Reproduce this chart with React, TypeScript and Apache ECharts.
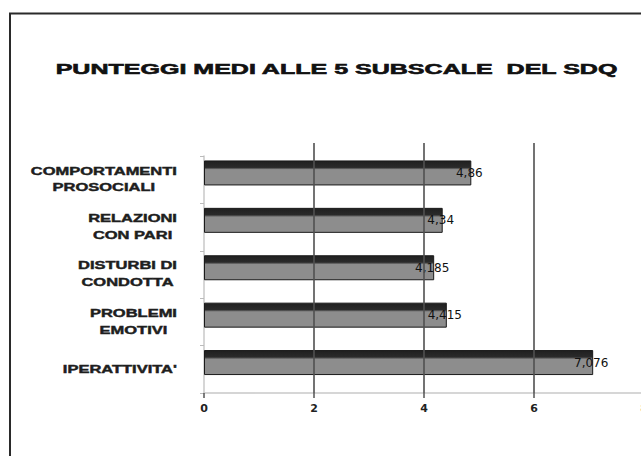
import React, { useEffect, useRef } from "react";
import * as echarts from "echarts";

const titleText = "PUNTEGGI MEDI ALLE 5 SUBSCALE  DEL SDQ";
const categories = [
  "COMPORTAMENTI\nPROSOCIALI",
  "RELAZIONI\nCON PARI",
  "DISTURBI DI\nCONDOTTA",
  "PROBLEMI\nEMOTIVI",
  "IPERATTIVITA'",
];
const values = [4.86, 4.34, 4.185, 4.415, 7.076];
const xMin = 0;
const xMax = 8;
const xInterval = 2;

const LABEL_FONT_SIZE = 10;
const LABEL_SCALE = 1.65;
const LABEL_RIGHT = 177;

export default function App() {
  const ref = useRef<HTMLDivElement>(null);
  useEffect(() => {
    if (!ref.current) return;
    const chart = echarts.init(ref.current, null, { renderer: "svg" });
    const barGradient = new echarts.graphic.LinearGradient(0, 0, 0, 1, [
      { offset: 0, color: "#202020" },
      { offset: 0.27, color: "#2a2a2a" },
      { offset: 0.32, color: "#5e5e5e" },
      { offset: 0.36, color: "#8d8d8d" },
      { offset: 1, color: "#8d8d8d" },
    ]);
    const option: any = {
      animation: false,
      backgroundColor: "#ffffff",
      grid: [
        { left: 204, top: 156, width: 440, height: 237, outerBoundsMode: "none", containLabel: false },
        { left: 204, top: 143, width: 440, height: 250, outerBoundsMode: "none", containLabel: false },
      ],
      xAxis: [
        {
          gridIndex: 0,
          type: "value",
          min: xMin,
          max: xMax,
          interval: xInterval,
          axisLine: { show: true, lineStyle: { color: "#c8c8c8", width: 1.5 } },
          axisTick: { show: true, length: 5, lineStyle: { color: "#555", width: 1.5 } },
          axisLabel: {
            margin: 10,
            color: "#222",
            fontFamily: "DejaVu Sans",
            fontWeight: "bold",
            fontSize: 11,
          },
          splitLine: { show: false },
        },
        {
          gridIndex: 1,
          type: "value",
          min: xMin,
          max: xMax,
          interval: xInterval,
          z: 5,
          axisLine: { show: false },
          axisTick: { show: false },
          axisLabel: { show: false },
          splitLine: {
            show: true,
            showMinLine: false,
            showMaxLine: false,
            lineStyle: { color: "#505050", width: 1.6 },
          },
        },
      ],
      yAxis: [
        {
          gridIndex: 0,
          type: "category",
          inverse: true,
          data: categories,
          axisLine: { show: true, lineStyle: { color: "#c8c8c8", width: 1.5 } },
          axisTick: { show: true, length: 4, lineStyle: { color: "#bbbbbb" } },
          axisLabel: { show: false },
        },
        { gridIndex: 1, type: "value", show: false },
      ],
      series: [
        {
          type: "bar",
          xAxisIndex: 0,
          yAxisIndex: 0,
          data: values,
          barWidth: 25,
          barGap: "-46%",
          itemStyle: {
            color: barGradient,
            borderColor: "#1a1a1a",
            borderWidth: 1,
          },
          label: {
            show: true,
            position: ["100%", "50%"],
            align: "center",
            verticalAlign: "middle",
            offset: [-2, 0],
            color: "#111",
            fontFamily: "DejaVu Sans",
            fontSize: 12,
            formatter: (p: any) => String(p.value).replace(".", ","),
          },
        },
        {
          type: "bar",
          xAxisIndex: 0,
          yAxisIndex: 0,
          data: values.map(() => null),
          barWidth: 25,
          barGap: "-46%",
          silent: true,
          itemStyle: { color: "transparent" },
        },
      ],
    };
    chart.setOption(option);

    const canvas = document.createElement("canvas");
    const ctx = canvas.getContext("2d");
    const font = `bold ${LABEL_FONT_SIZE}px "Liberation Sans"`;
    if (ctx) ctx.font = font;
    const labelGraphics = categories.map((cat, i) => {
      const py = chart.convertToPixel({ yAxisIndex: 0 }, i) as number;
      const lines = cat.split("\n");
      const maxW = Math.max(...lines.map((l) => (ctx ? ctx.measureText(l).width : l.length * 7)));
      const cx = LABEL_RIGHT - (maxW * LABEL_SCALE) / 2;
      return {
        type: "text",
        x: cx,
        y: py,
        scaleX: LABEL_SCALE,
        style: {
          text: cat,
          x: 0,
          y: 0,
          align: "center",
          verticalAlign: "middle",
          lineHeight: 17,
          font,
          fill: "#1e1e1e",
          stroke: "#1e1e1e",
          lineWidth: 0.4,
        },
      };
    });

    chart.setOption({
      graphic: [
        {
          type: "rect",
          shape: { x: 10, y: 13.5, width: 700, height: 500 },
          style: { fill: "none", stroke: "#2a2a2a", lineWidth: 2 },
        },
        {
          type: "text",
          x: 336.5,
          y: 69,
          scaleX: 1.67,
          style: {
            text: titleText,
            x: 0,
            y: 0,
            align: "center",
            verticalAlign: "middle",
            font: 'bold 15px "Liberation Sans"',
            fill: "#111",
            stroke: "#111",
            lineWidth: 0.6,
          },
        },
        ...labelGraphics,
      ],
    });

    return () => chart.dispose();
  }, []);
  return (
    <div
      ref={ref}
      style={{ position: "fixed", left: 0, top: 0, width: 641, height: 456 }}
    />
  );
}
